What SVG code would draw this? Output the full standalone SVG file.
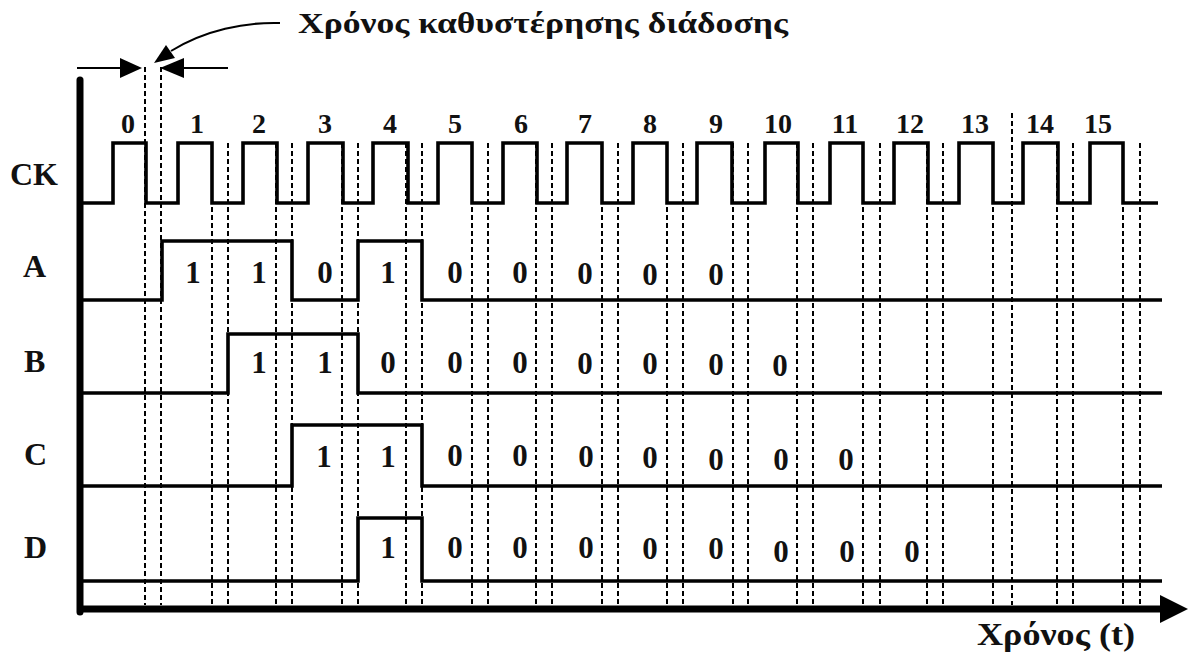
<svg xmlns="http://www.w3.org/2000/svg" width="1190" height="655" viewBox="0 0 1190 655">
<style>
text{font-family:"Liberation Serif","Times New Roman",serif;font-weight:bold;fill:#111}
.lbl{font-size:32px}
.num{font-size:28px;text-anchor:middle}
.val{font-size:31px;text-anchor:middle}
.wave{fill:none;stroke:#000;stroke-width:3.6;stroke-linejoin:miter}
.dash{stroke:#000;stroke-width:2;stroke-dasharray:5 3;fill:none}
.thin{stroke:#000;stroke-width:2;fill:none}
</style>
<rect width="1190" height="655" fill="#fff"/>
<g id="grid">
<path class="dash" d="M145,67V605M161,67V605M212,143V605M228,143V605M276,143V605M292,143V605M342,143V605M358,143V605M406,143V605M422,143V605M472,143V605M488,143V605M536,143V605M552,143V605M602,143V605M618,143V605M667,143V605M683,143V605M733,143V605M748,143V605M797,143V605M813,143V605M863,143V605M880,143V605M927,143V605M943,143V605M993,143V605M1012,113V605M1057,143V605M1073,143V605M1123,143V605M1140,143V605"/>
</g>
<g id="axes">
<line x1="80" y1="80" x2="80" y2="612" stroke="#000" stroke-width="7" stroke-linecap="round"/>
<line x1="77" y1="609" x2="1164" y2="609" stroke="#000" stroke-width="7"/>
<polygon points="1160,595 1188,609 1160,623" fill="#000"/>
</g>
<g id="clock">
<path class="wave" d="M80,203H113V143H146V203H178V143H212V203H243V143H277V203H308V143H343V203H373V143H408V203H438V143H472V203H503V143H537V203H567V143H602V203H633V143H667V203H697V143H732V203H765V143H798V203H830V143H863V203H894V143H928V203H959V143H993V203H1023V143H1058V203H1090V143H1123V203H1158"/>
</g>
<g id="signal-A"><path class="wave" d="M80,300H162V241H292V300H358V241H422V300H1162"/></g>
<g id="signal-B"><path class="wave" d="M80,393H228V334H358V393H1162"/></g>
<g id="signal-C"><path class="wave" d="M80,486H292V425H422V486H1162"/></g>
<g id="signal-D"><path class="wave" d="M80,581H358V518H422V581H1162"/></g>
<g id="connectors">
<path class="thin" d="M280,23C245,22 205,30 171,51"/>
<polygon points="154,63 175,58 166,45" fill="#000"/>
<line class="thin" x1="77" y1="68" x2="125" y2="68"/>
<polygon points="142,68 120,58 120,78" fill="#000"/>
<line class="thin" x1="180" y1="68" x2="228" y2="68"/>
<polygon points="160,68 184,58 184,78" fill="#000"/>
</g>
<g id="labels">
<text x="298" y="33" font-size="30" textLength="490" lengthAdjust="spacingAndGlyphs">Χρόνος καθυστέρησης διάδοσης</text>
<text x="977" y="645" font-size="31" textLength="158" lengthAdjust="spacingAndGlyphs">Χρόνος (t)</text>
<text class="lbl" x="10" y="185">CK</text>
<text class="lbl" x="23" y="277">A</text>
<text class="lbl" x="24" y="372">B</text>
<text class="lbl" x="24" y="465">C</text>
<text class="lbl" x="24" y="558">D</text>
</g>
<g id="clock-numbers">
<text class="num" x="128" y="133">0</text>
<text class="num" x="197" y="133">1</text>
<text class="num" x="259" y="133">2</text>
<text class="num" x="325" y="133">3</text>
<text class="num" x="390" y="133">4</text>
<text class="num" x="455" y="133">5</text>
<text class="num" x="521" y="133">6</text>
<text class="num" x="585" y="133">7</text>
<text class="num" x="650" y="133">8</text>
<text class="num" x="716" y="133">9</text>
<text class="num" x="778" y="133">10</text>
<text class="num" x="845" y="133">11</text>
<text class="num" x="910" y="133">12</text>
<text class="num" x="975" y="133">13</text>
<text class="num" x="1040" y="133">14</text>
<text class="num" x="1098" y="133">15</text>
</g>
<g id="values-A">
<text class="val" x="193" y="283">1</text>
<text class="val" x="259" y="283">1</text>
<text class="val" x="325" y="283">0</text>
<text class="val" x="388" y="283">1</text>
<text class="val" x="455" y="283">0</text>
<text class="val" x="520" y="283">0</text>
<text class="val" x="585" y="284">0</text>
<text class="val" x="650" y="285">0</text>
<text class="val" x="716" y="285">0</text>
</g>
<g id="values-B">
<text class="val" x="259" y="373">1</text>
<text class="val" x="325" y="373">1</text>
<text class="val" x="388" y="373">0</text>
<text class="val" x="455" y="373">0</text>
<text class="val" x="520" y="373">0</text>
<text class="val" x="585" y="374">0</text>
<text class="val" x="650" y="374">0</text>
<text class="val" x="716" y="375">0</text>
<text class="val" x="780" y="376">0</text>
</g>
<g id="values-C">
<text class="val" x="324" y="467">1</text>
<text class="val" x="388" y="467">1</text>
<text class="val" x="455" y="466">0</text>
<text class="val" x="520" y="466">0</text>
<text class="val" x="586" y="467">0</text>
<text class="val" x="650" y="468">0</text>
<text class="val" x="716" y="470">0</text>
<text class="val" x="781" y="470">0</text>
<text class="val" x="846" y="470">0</text>
</g>
<g id="values-D">
<text class="val" x="388" y="558">1</text>
<text class="val" x="455" y="558">0</text>
<text class="val" x="520" y="558">0</text>
<text class="val" x="586" y="558">0</text>
<text class="val" x="650" y="559">0</text>
<text class="val" x="716" y="559">0</text>
<text class="val" x="781" y="562">0</text>
<text class="val" x="847" y="562">0</text>
<text class="val" x="912" y="562">0</text>
</g>
</svg>
